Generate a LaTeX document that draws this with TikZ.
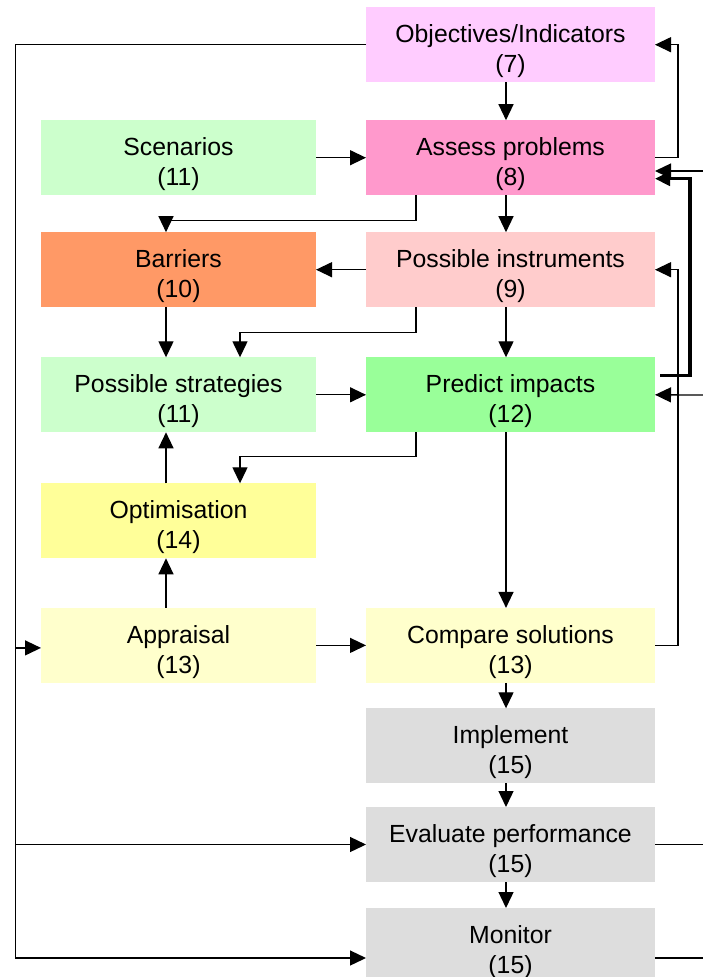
\documentclass[tikz,border=0pt]{standalone}
\usepackage{fontspec}
\setmainfont{Liberation Sans}
\usetikzlibrary{arrows.meta,calc}
\newcommand{\bt}[2]{\raisebox{-7pt}[\height][\depth]{\begin{tabular}{@{}c@{}}#1\\#2\end{tabular}}}
\definecolor{cobj}{HTML}{FFCCFF}
\definecolor{cass}{HTML}{FF99CC}
\definecolor{cscen}{HTML}{CCFFCC}
\definecolor{cbarr}{HTML}{FF9966}
\definecolor{cinst}{HTML}{FFCCCC}
\definecolor{cpred}{HTML}{99FF99}
\definecolor{copt}{HTML}{FFFF99}
\definecolor{cappr}{HTML}{FFFFCC}
\definecolor{cgrey}{HTML}{DDDDDD}
\begin{document}
\begin{tikzpicture}[x=1pt,y=-1pt,
  box/.style={rectangle, inner sep=0pt, outer sep=0pt, minimum height=75pt,
    font=\fontsize{24.8}{29.5}\selectfont},
  lbox/.style={box, minimum width=275pt},
  rbox/.style={box, minimum width=289pt},
  conn/.style={line width=1.3pt},
  arr/.style={conn, -{Triangle[length=16pt,width=15pt]}},
  tarr/.style={line width=3.2pt, -{Triangle[length=15pt,width=14pt]}},
]
\useasboundingbox (0,0) rectangle (703,977);

% right column
\node[rbox, fill=cobj]  (obj)    at (510.5,44.7)  {\bt{Objectives/Indicators}{(7)}};
\node[rbox, fill=cass]  (assess) at (510.5,157.7) {\bt{Assess problems}{(8)}};
\node[rbox, fill=cinst] (inst)   at (510.5,269.7) {\bt{Possible instruments}{(9)}};
\node[rbox, fill=cpred] (pred)   at (510.5,394.8) {\bt{Predict impacts}{(12)}};
\node[rbox, fill=cappr] (comp)   at (510.5,645.4) {\bt{Compare solutions}{(13)}};
\node[rbox, fill=cgrey] (impl)   at (510.5,745.8) {\bt{Implement}{(15)}};
\node[rbox, fill=cgrey] (eval)   at (510.5,844.5) {\bt{Evaluate performance}{(15)}};
\node[rbox, fill=cgrey] (mon)    at (510.5,945.5) {\bt{Monitor}{(15)}};

% left column
\node[lbox, fill=cscen] (scen)  at (178.5,157.7) {\bt{Scenarios}{(11)}};
\node[lbox, fill=cbarr] (barr)  at (178.5,269.7) {\bt{Barriers}{(10)}};
\node[lbox, fill=cscen] (strat) at (178.5,394.8) {\bt{Possible strategies}{(11)}};
\node[lbox, fill=copt]  (opt)   at (178.5,520.8) {\bt{Optimisation}{(14)}};
\node[lbox, fill=cappr] (appr)  at (178.5,645.4) {\bt{Appraisal}{(13)}};

% helper coordinates
\coordinate (lx) at (15.5,0);
\coordinate (rA) at (703,171);
\coordinate (rP) at (703,395);
\coordinate (rE) at (703,844.5);
\coordinate (rM) at (703,958);

% main vertical flow
\draw[arr] ([xshift=-4.5pt]obj.south) -- ([xshift=-4.5pt]assess.north);
\draw[arr] ([xshift=-4.5pt]assess.south) -- ([xshift=-4.5pt]inst.north);
\draw[arr] ([xshift=-4.5pt]inst.south) -- ([xshift=-4.5pt]pred.north);
\draw[arr] ([xshift=-4.5pt]pred.south) -- ([xshift=-4.5pt]comp.north);
\draw[arr] ([xshift=-4.5pt]comp.south) -- ([xshift=-4.5pt]impl.north);
\draw[arr] ([xshift=-4.5pt]impl.south) -- ([xshift=-4.5pt]eval.north);
\draw[arr] ([xshift=-4.5pt]eval.south) -- ([xshift=-4.5pt]mon.north);

% horizontal
\draw[arr] (scen.east) -- (assess.west);
\draw[arr] (inst.west) -- (barr.east);
\draw[arr] (strat.east) -- (pred.west);
\draw[arr] (appr.east) -- (comp.west);

% elbows
\draw[arr] ([xshift=50pt]assess.south west) -- ++(0,25.5) -| ([xshift=-12.5pt]barr.north);
\draw[arr] ([xshift=50pt]inst.south west) -- ++(0,25.6) -| ([xshift=61.5pt]strat.north);
\draw[arr] ([xshift=50pt]pred.south west) -- ++(0,24.3) -| ([xshift=61.5pt]opt.north);

% left column verticals
\draw[arr] ([xshift=-12.5pt]barr.south) -- ([xshift=-12.5pt]strat.north);
\draw[arr] ([xshift=-12.5pt]opt.north) -- ([xshift=-12.5pt]strat.south);
\draw[arr] ([xshift=-12.5pt]appr.north) -- ([xshift=-12.5pt]opt.south);

% right feedback loops
\draw[arr] (assess.east) -- ++(23,0) |- (obj.east);
\draw[arr] (comp.east) -- ++(23,0) |- (inst.east);
\draw[tarr] ([xshift=5pt,yshift=19pt]pred.east) -- ++(30,0) |- ([yshift=-21pt]assess.east);
\draw[arr] (rA) -- ([yshift=-13.3pt]assess.east);
\draw[arr] (rP) -- (pred.east);
\draw[conn] (eval.east) -- (rE);
\draw[conn] ([yshift=-12.5pt]mon.east) -- (rM);

% left loop
\draw[arr] (obj.west) -- (obj.west -| lx) |- ([yshift=-12.5pt]mon.west);
\draw[arr] ([yshift=-2.5pt]appr.west -| lx) -- ([yshift=-2.5pt]appr.west);
\draw[arr] (eval.west -| lx) -- (eval.west);
\end{tikzpicture}
\end{document}
